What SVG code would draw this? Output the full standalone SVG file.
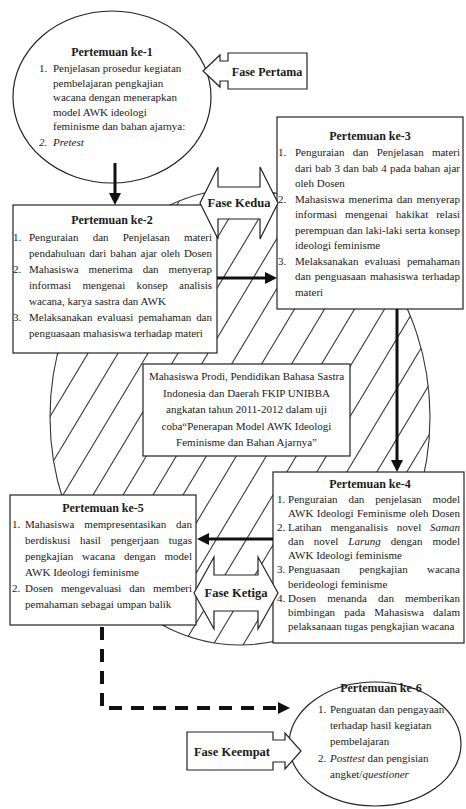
<svg xmlns="http://www.w3.org/2000/svg" width="466" height="809" viewBox="0 0 466 809">
<defs>
<style>
text { font-family: "Liberation Serif", "Times New Roman", serif; font-size: 11px; fill: #1a1a1a; }
.h { font-weight: bold; font-size: 12px; text-anchor: middle; }
.f { font-weight: bold; font-size: 12.5px; text-anchor: middle; }
.c { text-anchor: middle; }
.i { font-style: italic; }
.shape { fill: #fff; stroke: #222; stroke-width: 1.2; }
.arr { fill: none; stroke: #111; stroke-width: 3; }
.dash { fill: none; stroke: #111; stroke-width: 4; stroke-dasharray: 13 9; }
.hl { stroke: #333; stroke-width: 1.1; }
</style>
<pattern id="hatch" patternUnits="userSpaceOnUse" width="30" height="50">
<line class="hl" x1="0" y1="50" x2="30" y2="0"/>
<line class="hl" x1="-30" y1="50" x2="0" y2="0"/>
<line class="hl" x1="30" y1="50" x2="60" y2="0"/>
</pattern>
<marker id="ah" markerUnits="userSpaceOnUse" markerWidth="12" markerHeight="12" viewBox="0 0 12 12" refX="2" refY="6" orient="auto">
<path d="M0,0 L12,6 L0,12 Z" fill="#111"/>
</marker>
</defs>
<rect width="466" height="809" fill="#fff"/>

<g id="background-ellipse">
<ellipse cx="240" cy="417" rx="190" ry="228" fill="url(#hatch)" stroke="#333" stroke-width="1.1"/>
</g>

<g id="pertemuan-1">
<ellipse class="shape" cx="112" cy="97" rx="99" ry="86"/>
<text class="h" x="112" y="56">Pertemuan ke-1</text>
<text x="39" y="72">1.</text>
<text x="53" y="72">Penjelasan prosedur kegiatan</text>
<text x="53" y="86.5">pembelajaran pengkajian</text>
<text x="53" y="101">wacana dengan menerapkan</text>
<text x="53" y="115.5">model AWK ideologi</text>
<text x="53" y="130">feminisme dan bahan ajarnya:</text>
<text class="i" x="39" y="146">2.</text>
<text class="i" x="53" y="146">Pretest</text>
</g>

<g id="fase-pertama">
<path class="shape" d="M307,53 H228 V61 H220 V55 L203,71 L220,87 V81 H228 V89 H307 Z"/>
<text class="h" x="267" y="76">Fase Pertama</text>
</g>

<g id="pertemuan-3">
<rect class="shape" x="277" y="117" width="186" height="192"/>
<text class="h" x="370" y="140">Pertemuan ke-3</text>
<text x="278" y="156">1.</text>
<text x="295" y="156" style="word-spacing:5.4px" textLength="165" lengthAdjust="spacing">Penguraian dan Penjelasan materi</text>
<text x="295" y="171.5" style="word-spacing:0.4px" textLength="165" lengthAdjust="spacing">dari bab 3 dan bab 4 pada bahan ajar</text>
<text x="295" y="187">oleh Dosen</text>
<text x="278" y="202.5">2.</text>
<text x="295" y="202.5" style="word-spacing:1.3px" textLength="165" lengthAdjust="spacing">Mahasiswa menerima dan menyerap</text>
<text x="295" y="218" style="word-spacing:5.2px" textLength="165" lengthAdjust="spacing">informasi mengenai hakikat relasi</text>
<text x="295" y="233.5" textLength="165" lengthAdjust="spacing">perempuan dan laki-laki serta konsep</text>
<text x="295" y="249">ideologi feminisme</text>
<text x="278" y="264.5">3.</text>
<text x="295" y="264.5" style="word-spacing:3.5px" textLength="165" lengthAdjust="spacing">Melaksanakan evaluasi pemahaman</text>
<text x="295" y="280" style="word-spacing:1.1px" textLength="165" lengthAdjust="spacing">dan penguasaan mahasiswa terhadap</text>
<text x="295" y="295.5">materi</text>
</g>

<g id="pertemuan-2">
<rect class="shape" x="13" y="205" width="204" height="148"/>
<text class="h" x="112" y="224">Pertemuan ke-2</text>
<text x="13" y="241">1.</text>
<text x="29" y="241" style="word-spacing:11.4px" textLength="183" lengthAdjust="spacing">Penguraian dan Penjelasan materi</text>
<text x="29" y="257" style="word-spacing:1.2px" textLength="183" lengthAdjust="spacing">pendahuluan dari bahan ajar oleh Dosen</text>
<text x="13" y="273">2.</text>
<text x="29" y="273" style="word-spacing:7.3px" textLength="183" lengthAdjust="spacing">Mahasiswa menerima dan menyerap</text>
<text x="29" y="289" style="word-spacing:8.6px" textLength="183" lengthAdjust="spacing">informasi mengenai konsep analisis</text>
<text x="29" y="305">wacana, karya sastra dan AWK</text>
<text x="13" y="321">3.</text>
<text x="29" y="321" style="word-spacing:2.1px" textLength="183" lengthAdjust="spacing">Melaksanakan evaluasi pemahaman dan</text>
<text x="29" y="337">penguasaan mahasiswa terhadap materi</text>
</g>

<g id="fase-kedua">
<path class="shape" d="M200,203 L218,167 V187 H260 V167 L278,203 L260,239 V219 H218 V239 Z"/>
<text class="f" x="239" y="207">Fase Kedua</text>
</g>

<g id="peserta">
<rect class="shape" x="143" y="364" width="207" height="92"/>
<text class="c" x="246.5" y="380">Mahasiswa Prodi, Pendidikan Bahasa Sastra</text>
<text class="c" x="246.5" y="396.5">Indonesia dan Daerah FKIP UNIBBA</text>
<text class="c" x="246.5" y="413">angkatan tahun 2011-2012 dalam uji</text>
<text class="c" x="246.5" y="429.5">coba“Penerapan Model AWK Ideologi</text>
<text class="c" x="246.5" y="446">Feminisme dan Bahan Ajarnya”</text>
</g>

<g id="pertemuan-4">
<rect class="shape" x="273" y="472" width="191" height="171"/>
<text class="h" x="370" y="488">Pertemuan ke-4</text>
<text x="277" y="503">1.</text>
<text x="288" y="503" style="word-spacing:8.1px" textLength="172" lengthAdjust="spacing">Penguraian dan penjelasan model</text>
<text x="288" y="517" style="word-spacing:0.5px" textLength="172" lengthAdjust="spacing">AWK Ideologi Feminisme oleh Dosen</text>
<text x="277" y="531">2.</text>
<text x="288" y="531" style="word-spacing:6.1px" textLength="172" lengthAdjust="spacing">Latihan menganalisis novel <tspan class="i">Saman</tspan></text>
<text x="288" y="545" style="word-spacing:7.2px" textLength="172" lengthAdjust="spacing">dan novel <tspan class="i">Larung</tspan> dengan model</text>
<text x="288" y="559">AWK Ideologi feminisme</text>
<text x="277" y="573">3.</text>
<text x="288" y="573" style="word-spacing:16.6px" textLength="172" lengthAdjust="spacing">Penguasaan pengkajian wacana</text>
<text x="288" y="587.5">berideologi feminisme</text>
<text x="277" y="602">4.</text>
<text x="288" y="602" style="word-spacing:8.4px" textLength="172" lengthAdjust="spacing">Dosen menanda dan memberikan</text>
<text x="288" y="616" style="word-spacing:6.5px" textLength="172" lengthAdjust="spacing">bimbingan pada Mahasiswa dalam</text>
<text x="288" y="630">pelaksanaan tugas pengkajian wacana</text>
</g>

<g id="pertemuan-5">
<rect class="shape" x="10" y="495" width="186" height="130"/>
<text class="h" x="103" y="512">Pertemuan ke-5</text>
<text x="12" y="528">1.</text>
<text x="25" y="528" style="word-spacing:7.1px" textLength="167" lengthAdjust="spacing">Mahasiswa mempresentasikan dan</text>
<text x="25" y="544" style="word-spacing:7.1px" textLength="167" lengthAdjust="spacing">berdiskusi hasil pengerjaan tugas</text>
<text x="25" y="560" style="word-spacing:6.1px" textLength="167" lengthAdjust="spacing">pengkajian wacana dengan model</text>
<text x="25" y="576">AWK Ideologi feminisme</text>
<text x="12" y="592">2.</text>
<text x="25" y="592" style="word-spacing:5.1px" textLength="167" lengthAdjust="spacing">Dosen mengevaluasi dan memberi</text>
<text x="25" y="608">pemahaman sebagai umpan balik</text>
</g>

<g id="fase-ketiga">
<path class="shape" d="M194,593 L214,557 V575 H258 V557 L278,593 L258,629 V611 H214 V629 Z"/>
<text class="f" x="236" y="597">Fase Ketiga</text>
</g>

<g id="pertemuan-6">
<ellipse class="shape" cx="375" cy="744" rx="86" ry="62"/>
<text class="h" x="381" y="692">Pertemuan ke-6</text>
<text x="318" y="713">1.</text>
<text x="330" y="713">Penguatan dan pengayaan</text>
<text x="330" y="729">terhadap hasil kegiatan</text>
<text x="330" y="745">pembelajaran</text>
<text x="318" y="762">2.</text>
<text x="330" y="762"><tspan class="i">Posttest</tspan> dan pengisian</text>
<text x="330" y="778">angket/<tspan class="i">questioner</tspan></text>
</g>

<g id="fase-keempat">
<path class="shape" d="M187,732 H273 V740 H285 V733 L301,751 L285,769 V762 H273 V770 H187 Z"/>
<text class="f" x="232" y="756">Fase Keempat</text>
</g>

<g id="connectors">
<path class="arr" d="M115,163 V195" marker-end="url(#ah)"/>
<path class="arr" d="M217,278 H267" marker-end="url(#ah)"/>
<path class="arr" d="M397,309 V462" marker-end="url(#ah)"/>
<path class="arr" d="M273,539 H207" marker-end="url(#ah)"/>
<path class="dash" d="M102,627 V708 H280" marker-end="url(#ah)"/>
</g>
</svg>
